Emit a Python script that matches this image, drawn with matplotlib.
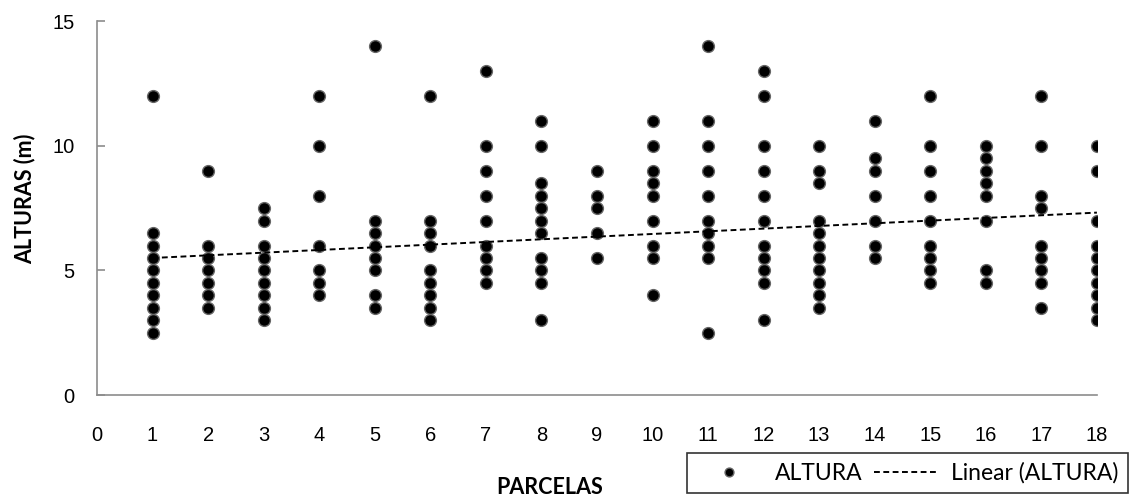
import numpy as np
import matplotlib.pyplot as plt

# ----------  Data  ----------

parcelas = list(range(1, 19))

alturas = [
    [12, 6.5, 6, 5.5, 5, 4.5, 4, 3.5, 3, 2.5],            # 1
    [9, 6, 5.5, 5, 4.5, 4, 3.5],                          # 2
    [7.5, 7, 6, 5.5, 5, 4.5, 4, 3.5, 3],                  # 3
    [12, 10, 8, 6, 5, 4.5, 4],                            # 4
    [14, 7, 6.5, 6, 5.5, 5, 4, 3.5],                      # 5
    [12, 7, 6.5, 6, 5, 4.5, 4, 3.5, 3],                   # 6
    [13, 10, 9, 8, 7, 6, 5.5, 5, 4.5],                    # 7
    [11, 10, 8.5, 8, 7.5, 7, 6.5, 5.5, 5, 4.5, 3],        # 8
    [9, 8, 7.5, 6.5, 5.5],                                # 9
    [11, 10, 9, 8.5, 8, 7, 6, 5.5, 4],                    # 10
    [14, 11, 10, 9, 8, 7, 6.5, 6, 5.5, 2.5],              # 11
    [13, 12, 10, 9, 8, 7, 6, 5.5, 5, 4.5, 3],             # 12
    [10, 9, 8.5, 7, 6.5, 6, 5.5, 5, 4.5, 4, 3.5],         # 13
    [11, 9.5, 9, 8, 7, 6, 5.5],                           # 14
    [12, 10, 9, 8, 7, 6, 5.5, 5, 4.5],                    # 15
    [10, 9.5, 9, 8.5, 8, 7, 5, 4.5],                      # 16
    [12, 10, 8, 7.5, 6, 5.5, 5, 4.5, 3.5],                # 17
    [10, 9, 7, 6, 5.5, 5, 4.5, 4, 3.5, 3],                # 18
]

# linear trendline as drawn (values at both ends;
# hidden duplicate points make a refit drift)
trend_x = [1, 18]
trend_y = [5.5, 7.32]

x_ticks = list(range(0, 19))
y_ticks = [0, 5, 10, 15]

x = np.concatenate([[p] * len(a) for p, a in zip(parcelas, alturas)])
y = np.concatenate(alturas)

# ----------  Plotting  ----------

plt.rcParams['font.family'] = ['Liberation Sans', 'DejaVu Sans']

fig = plt.figure(figsize=(11.48, 4.97), dpi=100)
ax = fig.add_axes([0.0845, 0.205, 0.871, 0.7525])

pts, = ax.plot(x, y, 'o', color='black', markersize=8.5,
               markeredgecolor='#666666', markeredgewidth=1.0, label='ALTURA')
trend, = ax.plot(trend_x, trend_y, '--', color='black', linewidth=1.4,
                 dashes=(3, 1.8), label='Linear (ALTURA)')

ax.set_xlim(0, 18)
ax.set_ylim(0, 15)
ax.set_xticks(x_ticks)
ax.set_yticks(y_ticks)

for side in ['top', 'right']:
    ax.spines[side].set_visible(False)
for side in ['left', 'bottom']:
    ax.spines[side].set_color('#8c8c8c')
    ax.spines[side].set_linewidth(1.2)

ax.tick_params(axis='x', length=0, pad=22, labelsize=14.5)
ax.tick_params(axis='y', direction='in', length=6, color='#8c8c8c', width=1.2,
               pad=16, labelsize=14.5)

title_font = ['Lato', 'DejaVu Sans']
fig.text(550 / 1148, 1 - 487 / 497, 'PARCELAS', ha='center', va='center',
         fontsize=15.5, fontweight='bold', family=title_font)
fig.text(25 / 1148, 1 - 199 / 497, 'ALTURAS (m)', ha='center', va='center',
         rotation=90, fontsize=15.5, fontweight='bold', family=title_font)

leg = fig.legend(handles=[pts, trend], loc='lower right',
                 bbox_to_anchor=(1128 / 1148, 4 / 497), ncol=2,
                 prop={'family': title_font, 'size': 16.5},
                 frameon=True, fancybox=False, edgecolor='black',
                 handlelength=2.8, columnspacing=0.5, handletextpad=0.6,
                 borderpad=0.4, borderaxespad=0, markerscale=0.75)
leg.get_frame().set_linewidth(1.2)

fig.savefig('out.png', dpi=100)
